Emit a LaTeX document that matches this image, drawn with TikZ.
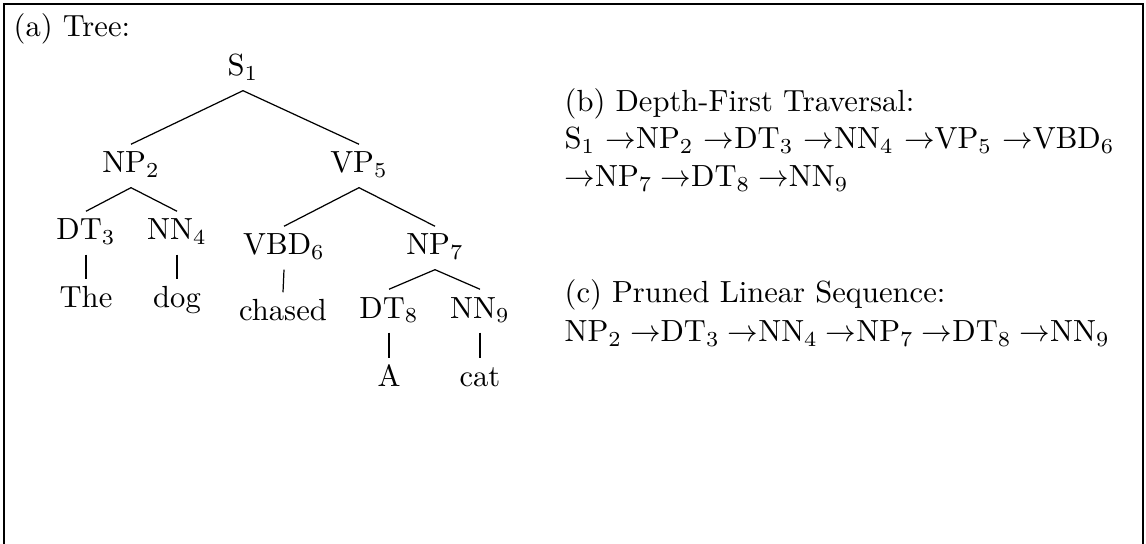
\documentclass[tikz,border=0pt]{standalone}
\newcommand{\seqto}[1]{\hspace{#1}$\rightarrow$}
\begin{document}
\begin{tikzpicture}[x=0.327pt, y=-0.327pt,
  tn/.style={inner sep=0pt, text height=9.2pt, text depth=4.6pt, anchor=base},
  lbl/.style={inner sep=0pt, anchor=base west}]
\useasboundingbox (0,0) rectangle (1146,544);
\draw (4,4) rectangle (1143,560);
\node[lbl] (cap_a) at (13,37) {(a) Tree:};
\node[tn] (s1) at (243,76) {S$_1$};
\node[tn] (np2) at (131,173) {NP$_2$};
\node[tn] (vp5) at (359,173) {VP$_5$};
\node[tn] (dt3) at (86,240) {DT$_3$};
\node[tn] (nn4) at (177,240) {NN$_4$};
\node[tn] (w_the) at (86,308) {The};
\node[tn] (w_dog) at (177,308) {dog};
\draw[](s1.south) -- (np2.north);
\draw[](np2.south) -- (dt3.north);
\draw[](np2.south) -- (nn4.north);
\draw[](dt3.south) -- (w_the.north);
\draw[](nn4.south) -- (w_dog.north);
\node[tn] (vbd6) at (284,255) {VBD$_6$};
\node[tn] (np7) at (435,255) {NP$_7$};
\node[tn] (w_chased) at (283,321) {chased};
\node[tn] (dt8) at (389,318) {DT$_8$};
\node[tn] (nn9) at (480,318) {NN$_9$};
\node[tn] (w_a) at (389,387) {A};
\node[tn] (w_cat) at (480,387) {cat};
\draw[](s1.south) -- (vp5.north);
\draw[](vp5.south) -- (vbd6.north);
\draw[](vp5.south) -- (np7.north);
\draw[](vbd6.south) -- (w_chased.north);
\draw[](np7.south) -- (dt8.north);
\draw[](np7.south) -- (nn9.north);
\draw[](dt8.south) -- (w_a.north);
\draw[](nn9.south) -- (w_cat.north);

\node[lbl] (cap_b) at (564,112) {(b) Depth-First Traversal:};
\node[lbl] (dfs1) at (564,149) {S$_1$\seqto{3.33pt}NP$_2$\seqto{3.33pt}DT$_3$\seqto{3.33pt}NN$_4$\seqto{3.33pt}VP$_5$\seqto{3.33pt}VBD$_6$};
\node[lbl] (dfs2) at (564,187) {$\rightarrow$NP$_7$\seqto{2.6pt}DT$_8$\seqto{2.6pt}NN$_9$};
\node[lbl] (cap_c) at (564,303) {(c) Pruned Linear Sequence:};
\node[lbl] (seq) at (564,342) {NP$_2$\seqto{2.6pt}DT$_3$\seqto{2.6pt}NN$_4$\seqto{2.6pt}NP$_7$\seqto{2.6pt}DT$_8$\seqto{2.6pt}NN$_9$};
\end{tikzpicture}
\end{document}
